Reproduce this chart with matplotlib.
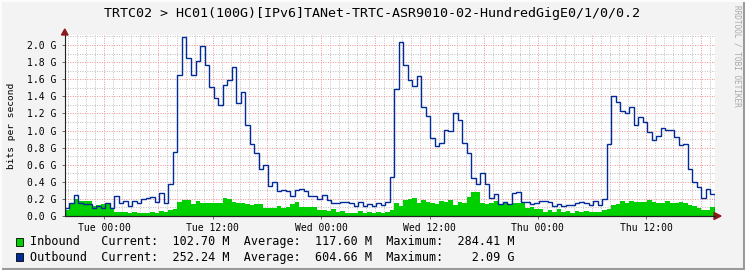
import numpy as np
import matplotlib.pyplot as plt
from matplotlib.patches import Rectangle, Polygon
from matplotlib.lines import Line2D

# 30 minute averages, in Gbit/s (left to right)
inbound = [
    0.070, 0.140, 0.195, 0.175, 0.180, 0.180, 0.120, 0.129, 0.140, 0.140,
    0.097, 0.050, 0.043, 0.050, 0.039, 0.047, 0.031, 0.031, 0.031, 0.050,
    0.039, 0.058, 0.050, 0.070, 0.080, 0.168, 0.187, 0.187, 0.140, 0.175,
    0.148, 0.156, 0.156, 0.156, 0.148, 0.207, 0.195, 0.168, 0.156, 0.148,
    0.140, 0.129, 0.136, 0.140, 0.097, 0.097, 0.090, 0.117, 0.097, 0.109,
    0.136, 0.160, 0.101, 0.109, 0.101, 0.101, 0.070, 0.070, 0.058, 0.078,
    0.050, 0.058, 0.031, 0.039, 0.031, 0.058, 0.031, 0.050, 0.031, 0.047,
    0.039, 0.050, 0.070, 0.148, 0.117, 0.187, 0.195, 0.214, 0.156, 0.187,
    0.168, 0.156, 0.140, 0.175, 0.168, 0.187, 0.129, 0.160, 0.156, 0.226,
    0.277, 0.284, 0.148, 0.140, 0.148, 0.180, 0.136, 0.148, 0.140, 0.156,
    0.156, 0.148, 0.097, 0.109, 0.082, 0.082, 0.050, 0.070, 0.050, 0.078,
    0.050, 0.058, 0.031, 0.058, 0.050, 0.058, 0.043, 0.050, 0.050, 0.070,
    0.078, 0.129, 0.140, 0.175, 0.148, 0.175, 0.160, 0.168, 0.168, 0.187,
    0.168, 0.156, 0.148, 0.175, 0.156, 0.148, 0.168, 0.156, 0.129, 0.120,
    0.097, 0.070, 0.070, 0.103,
]
outbound = [
    0.090, 0.148, 0.245, 0.156, 0.140, 0.140, 0.090, 0.120, 0.090, 0.150,
    0.090, 0.234, 0.156, 0.180, 0.117, 0.180, 0.148, 0.200, 0.207, 0.226,
    0.168, 0.265, 0.148, 0.370, 0.745, 1.650, 2.090, 1.844, 1.650, 1.810,
    1.990, 1.766, 1.505, 1.376, 1.298, 1.530, 1.590, 1.740, 1.325, 1.446,
    1.064, 0.838, 0.733, 0.546, 0.596, 0.350, 0.394, 0.292, 0.304, 0.292,
    0.234, 0.304, 0.320, 0.296, 0.234, 0.234, 0.200, 0.245, 0.187, 0.148,
    0.148, 0.160, 0.160, 0.148, 0.117, 0.160, 0.117, 0.136, 0.120, 0.148,
    0.129, 0.160, 0.452, 1.480, 2.030, 1.766, 1.590, 1.520, 1.637, 1.270,
    1.173, 0.908, 0.819, 0.850, 1.006, 0.998, 1.200, 1.123, 0.850, 0.740,
    0.440, 0.370, 0.507, 0.370, 0.207, 0.253, 0.140, 0.168, 0.140, 0.265,
    0.277, 0.168, 0.168, 0.140, 0.148, 0.180, 0.180, 0.160, 0.120, 0.140,
    0.120, 0.129, 0.129, 0.148, 0.168, 0.156, 0.129, 0.175, 0.129, 0.195,
    0.838, 1.407, 1.337, 1.228, 1.200, 1.279, 1.064, 1.162, 1.096, 0.979,
    0.889, 0.936, 1.025, 1.006, 1.006, 0.928, 0.830, 0.838, 0.546, 0.394,
    0.343, 0.207, 0.312, 0.257,
]

start_hour = -4.4  # hours relative to Tue 00:00
step_hour = 0.5
tick_hours = [0, 12, 24, 36, 48, 60]
tick_labels = ["Tue 00:00", "Tue 12:00", "Wed 00:00", "Wed 12:00", "Thu 00:00", "Thu 12:00"]

title = "TRTC02 > HC01(100G)[IPv6]TANet-TRTC-ASR9010-02-HundredGigE0/1/0/0.2"
legend_names = ["Inbound", "Outbound"]
legend_colors = ["#00cf00", "#002a97"]
legend_current = ["102.70 M", "252.24 M"]
legend_average = ["117.60 M", "604.66 M"]
legend_maximum = ["284.41 M", "2.09 G"]

mono = "DejaVu Sans Mono"
W, H = 745, 270


def fx(x):
    return x / W


def fy(y):
    return 1 - y / H


fig = plt.figure(figsize=(W / 100, H / 100), dpi=100)
fig.patch.set_facecolor("#f3f3f3")

# plot area
ax = fig.add_axes([fx(64.5), fy(216), (715 - 64.5) / W, (216 - 35) / H])
ax.set_facecolor("white")

edges = start_hour + step_hour * np.arange(len(outbound) + 1)
ax.set_xlim(edges[0], edges[-1])
ax.set_ylim(0, 2.117)

# grid: minor gray every hour / 0.1 G, major red every 6 h / 0.2 G
dots = (0, (1, 1.5))
for h in np.arange(-4, 68, 1):
    if h % 6 != 0:
        ax.axvline(h, color="#bdbdbd", lw=0.7, ls=dots, zorder=1)
for h in np.arange(0, 68, 6):
    ax.axvline(h, color="#f09090", lw=0.7, ls=dots, zorder=1)
for v in np.arange(1, 22):
    ax.axhline(v * 0.1, color="#f09090" if v % 2 == 0 else "#bdbdbd",
               lw=0.7, ls=dots, zorder=1)

ax.stairs(inbound, edges, fill=True, color="#00cf00", lw=0, zorder=2)
ax.stairs(outbound, edges, color="#002a97", lw=1.0, zorder=3)

ax.set_yticks(np.arange(0, 2.01, 0.2))
ax.set_yticklabels([f"{v:.1f} G" for v in np.arange(0, 2.01, 0.2)])
ax.set_xticks(tick_hours)
ax.set_xticklabels(tick_labels)
ax.tick_params(axis="both", length=2, width=0.6, color="#555555",
               labelsize=7, direction="out")
ax.tick_params(axis="y", pad=4)
ax.tick_params(axis="x", pad=3)
for lab in ax.get_xticklabels() + ax.get_yticklabels():
    lab.set_fontfamily(mono)
ax.set_ylabel("bits per second", fontfamily=mono, fontsize=6.8, labelpad=8)

for s in ["top", "right"]:
    ax.spines[s].set_visible(False)
ax.spines["left"].set_color("#222222")
ax.spines["bottom"].set_color("#222222")
ax.spines["left"].set_linewidth(0.8)
ax.spines["bottom"].set_linewidth(0.8)
ax.spines["left"].set_zorder(4)
ax.spines["bottom"].set_zorder(4)

# axis arrows
fig.add_artist(Polygon([(fx(61.5), fy(35)), (fx(68), fy(35)), (fx(64.8), fy(29))],
                       closed=True, color="#8b1a1a", transform=fig.transFigure))
fig.add_artist(Polygon([(fx(714), fy(212.5)), (fx(714), fy(219.5)), (fx(721), fy(216))],
                       closed=True, color="#8b1a1a", transform=fig.transFigure))
fig.add_artist(Line2D([fx(64.5), fx(715)], [fy(216), fy(216)], color="#222222",
                      lw=0.8, transform=fig.transFigure))

# title
fig.text(0.5, fy(14), title, ha="center", va="center", fontfamily=mono, fontsize=9.6)

# watermark
fig.text(fx(737.5), fy(5), "RRDTOOL / TOBI OETIKER", rotation=270, ha="center", va="top",
         fontfamily=mono, fontsize=5.6, color="#a8a8a8")

# legend
for i, name in enumerate(legend_names):
    yc = 242 + 15 * i
    fig.add_artist(Rectangle((fx(16), fy(yc + 4)), 7 / W, 8 / H, facecolor=legend_colors[i],
                             edgecolor="black", lw=0.6, transform=fig.transFigure))
    row = (f"{name:<10}Current:  {legend_current[i]:>8}  "
           f"Average:  {legend_average[i]:>8}  Maximum:  {legend_maximum[i]:>8}")
    fig.text(fx(29.5), fy(yc), row, ha="left", va="center", fontfamily=mono, fontsize=8.5)

# frame shading
fig.add_artist(Line2D([fx(743.5), fx(743.5)], [0, 1], color="#9a9a9a", lw=1.5,
                      transform=fig.transFigure))
fig.add_artist(Line2D([0, 1], [fy(268.5), fy(268.5)], color="#9a9a9a", lw=1.5,
                      transform=fig.transFigure))
fig.add_artist(Line2D([fx(1), fx(1)], [0, 1], color="#fcfcfc", lw=1.5,
                      transform=fig.transFigure))
fig.add_artist(Line2D([0, 1], [fy(1), fy(1)], color="#fcfcfc", lw=1.5,
                      transform=fig.transFigure))

fig.savefig("out.png", dpi=100, facecolor=fig.get_facecolor())
